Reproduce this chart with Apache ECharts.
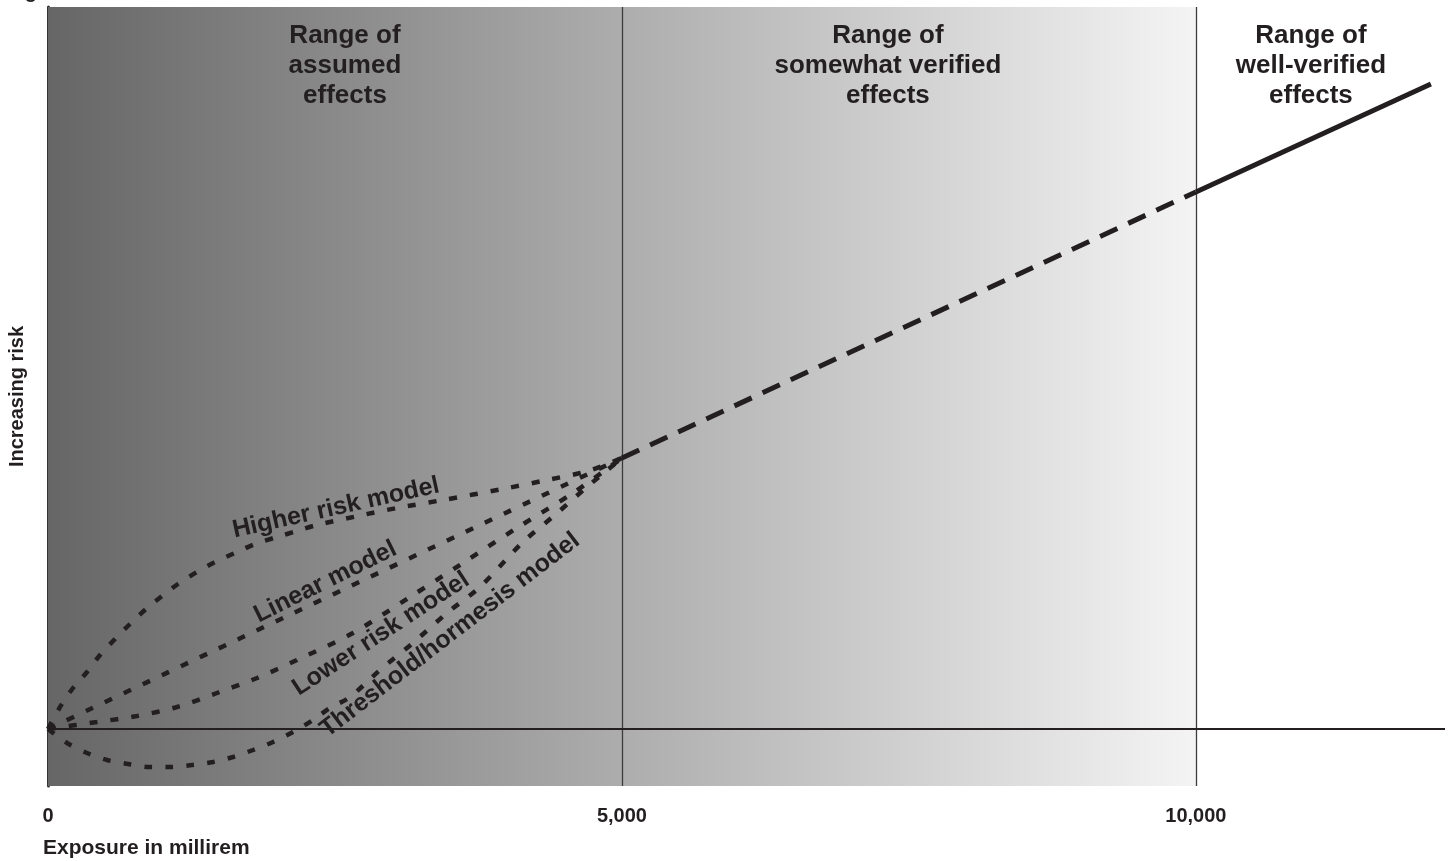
<!DOCTYPE html>
<html>
<head>
<meta charset="utf-8">
<script src="https://cdn.jsdelivr.net/npm/echarts@6/dist/echarts.min.js"></script>
<style>
html,body{margin:0;padding:0;background:#fff;}
#chart{width:1451px;height:861px;}
</style>
</head>
<body>
<div id="chart"></div>
<script>
// ---------------- data ----------------
const xTickValues = [0, 5000, 10000];
const regionTitles = ['Range of\nassumed\neffects', 'Range of\nsomewhat verified\neffects', 'Range of\nwell-verified\neffects'];
const modelNames = ['Higher risk model', 'Linear model', 'Lower risk model', 'Threshold/hormesis model'];
const higherRisk = [[0,0],[105,22],[218,41],[340,57],[453,74],[584,90],[714,105],[854,120],[993,133],[1132,145],[1298,157],[1455,167],[1629,176],[1803,185],[1995,192],[2169,198],[2343,204],[2700,213],[3040,221],[3441,229],[3963,240],[4347,249],[4704,258],[5000,271]];
const linearModel = [[0,0],[5000,271]];
const lowerRisk = [[0,0],[427,7],[775,13],[1124,22],[1472,36],[1821,51],[2169,69],[2657,96],[3153,132],[3615,166],[4085,201],[4573,236],[5000,271]];
const thresholdModel = [[0,0],[166,-14],[340,-24],[514,-31],[697,-35],[889,-38],[1063,-38],[1254,-36],[1437,-33],[1612,-28],[1786,-21],[1960,-13],[2134,-3],[2308,9],[2456,21],[2631,32],[2892,59],[3179,86],[3476,116],[3763,142],[4129,186],[4416,214],[4695,242],[5000,271]];
const dashedSegment = [[5000,271],[10000,537]];
const solidSegment = [[10000,537],[12047,645]];
const regionBounds = [0, 5000, 10000];

// ---------------- layout / style ----------------
const FONT = "'Liberation Sans', Arial, Helvetica, sans-serif";
const INK = '#231f20';
const X_MAX = 12170, Y_MIN = -57, Y_MAX = 722;
const regionTitleAnchors = [[2587, 708], [7317, 708], [11002, 708]];
const modelLabelAnchors = [
  {at:[2509, 221], rot:12.5},
  {at:[2417, 147], rot:26.3},
  {at:[2901, 95], rot:33.2},
  {at:[3502, 94], rot:37.5}
];

const chart = echarts.init(document.getElementById('chart'), null, {renderer:'canvas'});

function dotted(name, data){
  return {
    name, type:'line', data, smooth:0.3, symbol:'none', z:5, silent:true,
    lineStyle:{color:INK, width:4.5, type:[8,13], cap:'butt'}
  };
}

const option = {
  animation:false,
  backgroundColor:'#ffffff',
  grid:{left:48, right:6, top:7, bottom:75, containLabel:false, outerBoundsMode:'none'},
  xAxis:{
    type:'value', min:0, max:X_MAX, interval:5000,
    axisLine:{show:false, onZero:false}, axisTick:{show:false}, splitLine:{show:false},
    axisLabel:{
      margin:20, showMaxLabel:false, color:INK,
      fontFamily:FONT, fontWeight:'bold', fontSize:20,
      formatter:v => xTickValues.includes(v) ? v.toLocaleString('en-US') : ''
    }
  },
  yAxis:{
    type:'value', min:Y_MIN, max:Y_MAX,
    axisLine:{show:true, onZero:false, lineStyle:{color:'#333', width:3}},
    axisTick:{show:false}, axisLabel:{show:false}, splitLine:{show:false},
    name:'Increasing risk', nameLocation:'middle', nameRotate:90, nameGap:21,
    nameTextStyle:{color:INK, fontFamily:FONT, fontWeight:'bold', fontSize:20}
  },
  series:[
    {
      type:'line', data:[], z:1, silent:true,
      markArea:{
        silent:true,
        itemStyle:{
          color:new echarts.graphic.LinearGradient(0,0,1,0,[
            {offset:0, color:'#666666'},
            {offset:1, color:'#f4f4f4'}
          ])
        },
        data:[[{xAxis:regionBounds[0], yAxis:Y_MIN},{xAxis:regionBounds[2], yAxis:Y_MAX}]]
      },
      markLine:{
        silent:true, symbol:'none', label:{show:false},
        lineStyle:{color:'#3c3c3c', width:1.3, type:'solid'},
        data:[{xAxis:regionBounds[1]},{xAxis:regionBounds[2]}]
      }
    },
    {
      type:'line', data:[], z:2, silent:true,
      markLine:{
        silent:true, symbol:'none', label:{show:false},
        lineStyle:{color:INK, width:2.2, type:'solid'},
        data:[[{coord:[0,0]},{coord:[X_MAX,0]}]]
      }
    },
    dotted(modelNames[0], higherRisk),
    dotted(modelNames[1], linearModel),
    dotted(modelNames[2], lowerRisk),
    dotted(modelNames[3], thresholdModel),
    {
      type:'line', data:dashedSegment, symbol:'none', z:6, silent:true,
      lineStyle:{color:INK, width:5, type:[19,12], cap:'butt'}
    },
    {
      type:'line', data:solidSegment, symbol:'none', z:6, silent:true,
      lineStyle:{color:INK, width:5, type:'solid'}
    }
  ]
};
chart.setOption(option);

// text annotations anchored in data coordinates
const graphics = [];
regionTitles.forEach((t, i) => {
  const p = chart.convertToPixel({gridIndex:0}, regionTitleAnchors[i]);
  graphics.push({
    type:'text', x:p[0], y:p[1], z:10, silent:true,
    style:{text:t, align:'center', verticalAlign:'top', lineHeight:30,
      font:'bold 26px ' + FONT, fill:INK}
  });
});
modelNames.forEach((t, i) => {
  const a = modelLabelAnchors[i];
  const p = chart.convertToPixel({gridIndex:0}, a.at);
  graphics.push({
    type:'text', x:p[0], y:p[1], rotation:a.rot*Math.PI/180, z:10, silent:true,
    style:{text:t, align:'center', verticalAlign:'middle',
      font:'bold 25px ' + FONT, fill:INK}
  });
});
graphics.push({
  type:'text', left:43, top:838, z:10, silent:true,
  style:{text:'Exposure in millirem', font:'bold 21px ' + FONT, fill:INK}
});
graphics.push({
  type:'text', x:7, y:2, z:10, silent:true,
  style:{text:'Figure', font:'bold 20px ' + FONT, fill:INK, verticalAlign:'bottom', lineHeight:20}
});
chart.setOption({graphic:graphics});
</script>
</body>
</html>
